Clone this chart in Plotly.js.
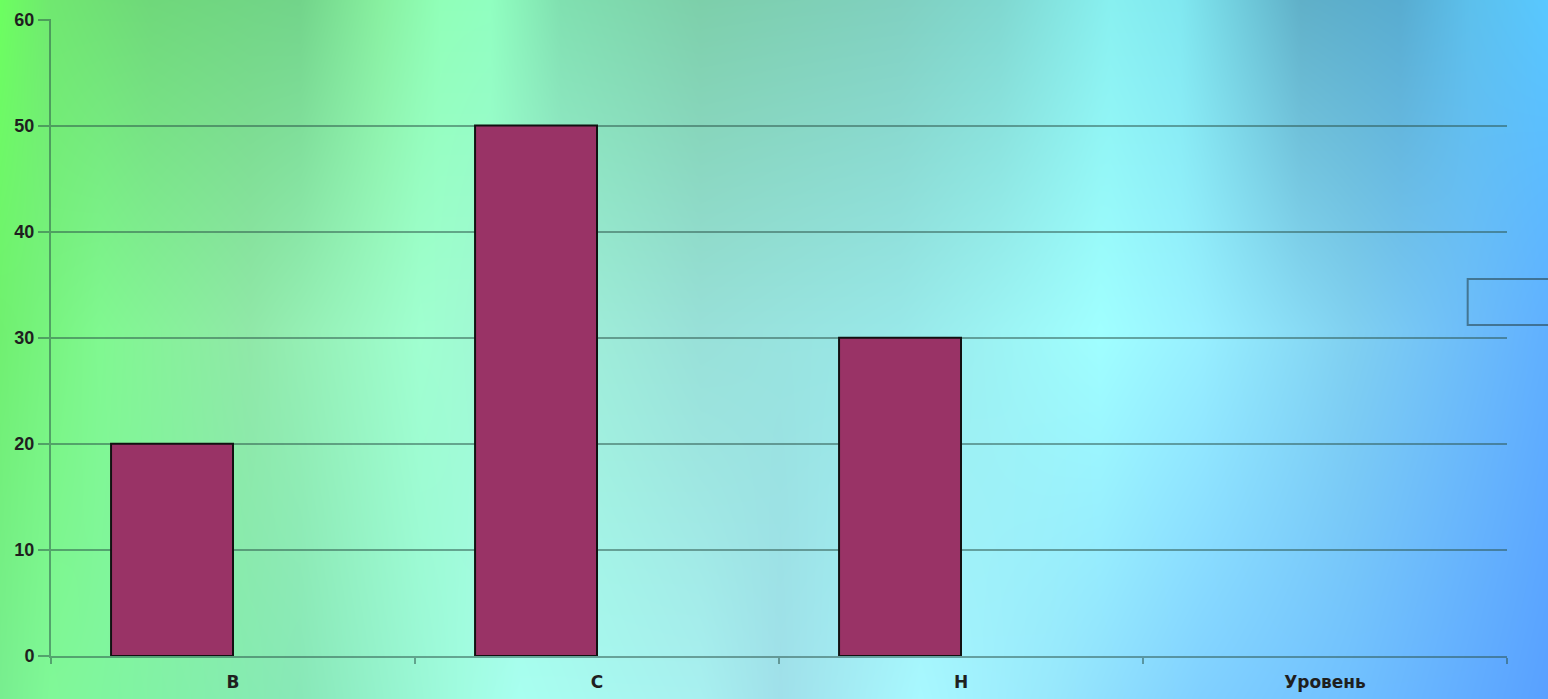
<!DOCTYPE html>
<html>
<head>
<meta charset="utf-8">
<script src="https://cdn.plot.ly/plotly-3.0.1.min.js"></script>
<style>
  html, body { margin:0; padding:0; width:1548px; height:699px; overflow:hidden; }
  #chart { width:1548px; height:699px; background-size:100% 100%; }
</style>
</head>
<body>
<div id="chart"></div>
<script>
// ---- data ----
const categories = ['В', 'С', 'Н', 'Уровень'];
const seriesMain = [20, 50, 30, null];
const seriesEmpty = [null, null, null, null];

// ---- background (style only) ----
function hex(c){ return [parseInt(c.slice(1,3),16), parseInt(c.slice(3,5),16), parseInt(c.slice(5,7),16)]; }
const rows = [
  {y:0, stops:[[0,'#6cff60'],[50,'#70e870'],[150,'#6fd87a'],[300,'#72d48a'],[380,'#88f0a0'],[440,'#90ffb8'],[490,'#90ffc0'],[560,'#80e0b0'],[700,'#7dcfaa'],[900,'#80d0c0'],[1000,'#80d8d0'],[1110,'#88f0f0'],[1180,'#80e8f0'],[1300,'#60b0c8'],[1400,'#58acd0'],[1470,'#5cc0ec'],[1548,'#58c8ff']]},
  {y:330, stops:[[0,'#70f070'],[100,'#80f890'],[250,'#90e8a8'],[420,'#a0ffd0'],[560,'#a0f0d8'],[700,'#98e0d8'],[900,'#98e8e8'],[1100,'#a0ffff'],[1200,'#98f0ff'],[1350,'#80d0f0'],[1548,'#60b0ff']]},
  {y:699, stops:[[0,'#78ee90'],[50,'#80f898'],[110,'#80f5a0'],[300,'#88e8b8'],[460,'#a0fce0'],[520,'#a8fff0'],[700,'#a8f0f0'],[780,'#a0e0ea'],[920,'#a8f8ff'],[1050,'#98e8fc'],[1200,'#80d0ff'],[1350,'#70c0ff'],[1548,'#58a0ff']]}
];
function rowColor(stops, x){
  for (let i=0;i<stops.length-1;i++){
    const [x0,c0]=stops[i], [x1,c1]=stops[i+1];
    if (x<=x1){ const t=(x-x0)/(x1-x0); const a=hex(c0), b=hex(c1); return [0,1,2].map(k=>a[k]+(b[k]-a[k])*t); }
  }
  return hex(stops[stops.length-1][1]);
}
(function(){
  const W=1548,H=699; const cv=document.createElement('canvas'); cv.width=W; cv.height=H;
  const ctx=cv.getContext('2d'); const img=ctx.createImageData(W,H);
  const cols = rows.map(r=>{ const arr=[]; for(let x=0;x<W;x++) arr.push(rowColor(r.stops,x)); return arr; });
  for (let y=0;y<H;y++){
    let i = y<=rows[1].y ? 0 : 1; const t=(y-rows[i].y)/(rows[i+1].y-rows[i].y);
    for (let x=0;x<W;x++){
      const a=cols[i][x], b=cols[i+1][x]; const p=(y*W+x)*4;
      img.data[p]=a[0]+(b[0]-a[0])*t; img.data[p+1]=a[1]+(b[1]-a[1])*t; img.data[p+2]=a[2]+(b[2]-a[2])*t; img.data[p+3]=255;
    }
  }
  ctx.putImageData(img,0,0);
  document.getElementById('chart').style.backgroundImage='url('+cv.toDataURL()+')';
})();

const gridCol = 'rgba(40,80,70,0.5)';
const traces = [
  {type:'bar', x:categories, y:seriesMain, marker:{color:'#993366', line:{color:'#111111', width:2}}, hoverinfo:'x+y'},
  {type:'bar', x:categories, y:seriesEmpty, marker:{color:'#9999ff'}, hoverinfo:'skip'}
];
const layout = {
  width:1548, height:699,
  margin:{l:51, r:41, t:19, b:43},
  paper_bgcolor:'rgba(0,0,0,0)', plot_bgcolor:'rgba(0,0,0,0)',
  showlegend:false,
  barmode:'group', bargap:0.33, bargroupgap:0,
  font:{family:'Liberation Sans, Arial, sans-serif', color:'#1a1a1a'},
  xaxis:{type:'category', tickson:'boundaries', ticks:'outside', ticklen:6, tickcolor:gridCol, tickwidth:2,
         showline:true, linecolor:gridCol, linewidth:2, showgrid:false, zeroline:false,
         ticklabelstandoff:10,
         tickfont:{family:'DejaVu Sans, sans-serif', size:17, weight:'bold', color:'#1f1f1f'}, range:[-0.5,3.5]},
  yaxis:{range:[0,60.05], tickvals:[0,10,20,30,40,50,60], ticks:'outside', ticklen:11, tickcolor:gridCol, tickwidth:2,
         showline:true, linecolor:gridCol, linewidth:2, showgrid:true, gridcolor:gridCol, gridwidth:2,
         zeroline:false, tickfont:{family:'Liberation Sans, Arial, sans-serif', size:18, weight:'bold', color:'#1f1f1f'}},
  shapes:[{type:'rect', xref:'paper', yref:'paper', x0:0.973, x1:1.1, y0:0.5196, y1:0.5918,
           line:{color:'rgba(40,70,80,0.6)', width:2}, fillcolor:'rgba(0,0,0,0)'}]
};
Plotly.newPlot('chart', traces, layout, {displayModeBar:false, staticPlot:true});
</script>
</body>
</html>
